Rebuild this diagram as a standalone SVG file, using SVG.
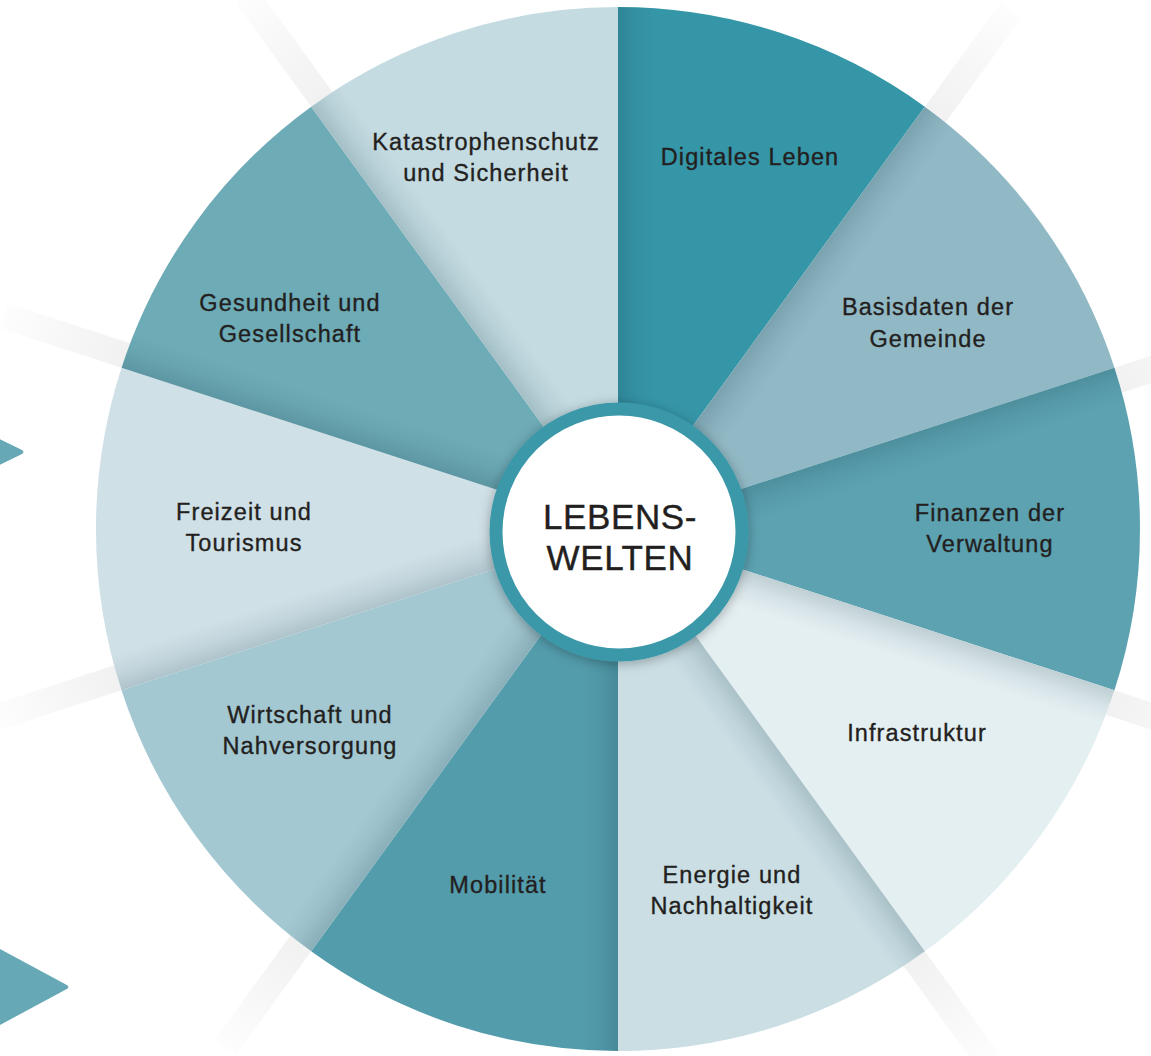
<svg xmlns="http://www.w3.org/2000/svg" width="1151" height="1056" viewBox="0 0 1151 1056">
<style>
.lbl{font-family:"Liberation Sans",Arial,Helvetica,sans-serif;font-size:23.5px;fill:#231f20;stroke:#231f20;stroke-width:0.35px;text-anchor:middle;letter-spacing:1.1px}
.ctr{font-family:"Liberation Sans",Arial,Helvetica,sans-serif;font-size:35px;fill:#231f20;stroke:#231f20;stroke-width:0.4px;text-anchor:middle;letter-spacing:0.6px}
.arrow{fill:#66a8b5}
.ray{fill:url(#ray)}
.shade{fill:url(#shade)}
</style>
<defs>
<clipPath id="wheelClip"><circle cx="618" cy="529" r="522"/></clipPath>
<linearGradient id="shade" gradientUnits="userSpaceOnUse" x1="618" y1="0" x2="654" y2="0">
<stop offset="0" stop-color="#0d3340" stop-opacity="0.17"/>
<stop offset="0.5" stop-color="#0d3340" stop-opacity="0.06"/>
<stop offset="1" stop-color="#0d3340" stop-opacity="0"/>
</linearGradient>
<linearGradient id="ray" gradientUnits="userSpaceOnUse" x1="0" y1="10" x2="0" y2="-120">
<stop offset="0" stop-color="#f1f1f1"/>
<stop offset="1" stop-color="#fdfdfd"/>
</linearGradient>
<filter id="drop" x="-20%" y="-20%" width="140%" height="140%">
<feDropShadow dx="0" dy="2" stdDeviation="6" flood-color="#000" flood-opacity="0.3"/>
</filter>
</defs>
<rect width="1151" height="1056" fill="#ffffff"/>

<g id="arrows">
<path class="arrow" d="M -100 391 L 20 449 Q 27 452 20 455 L -100 513 Z"/>
<path class="arrow" d="M -80 906 L 65 984 Q 72 987 65 990 L -80 1068 Z"/>
</g>

<g id="rays">
<rect class="ray" x="618" y="-121" width="26" height="132" transform="rotate(36 618 529)"/>
<rect class="ray" x="618" y="-121" width="26" height="132" transform="rotate(72 618 529)"/>
<rect class="ray" x="618" y="-121" width="26" height="132" transform="rotate(108 618 529)"/>
<rect class="ray" x="618" y="-121" width="26" height="132" transform="rotate(144 618 529)"/>
<rect class="ray" x="618" y="-121" width="26" height="132" transform="rotate(216 618 529)"/>
<rect class="ray" x="618" y="-121" width="26" height="132" transform="rotate(252 618 529)"/>
<rect class="ray" x="618" y="-121" width="26" height="132" transform="rotate(288 618 529)"/>
<rect class="ray" x="618" y="-121" width="26" height="132" transform="rotate(324 618 529)"/>
</g>

<g id="node-digitales-leben">
<path d="M 618 529 L 618 7 A 522 522 0 0 1 924.82 106.69 Z" fill="#3596a8"/>
<rect class="shade" x="618" y="7" width="40" height="522" transform="rotate(0 618 529)" clip-path="url(#wheelClip)"/>
<text class="lbl" x="750" y="165">Digitales Leben</text>
</g>
<g id="node-basisdaten">
<path d="M 618 529 L 924.82 106.69 A 522 522 0 0 1 1114.45 367.69 Z" fill="#91b9c5"/>
<rect class="shade" x="618" y="7" width="40" height="522" transform="rotate(36 618 529)" clip-path="url(#wheelClip)"/>
<text class="lbl" x="928" y="315">Basisdaten der</text>
<text class="lbl" x="928" y="347">Gemeinde</text>
</g>
<g id="node-finanzen">
<path d="M 618 529 L 1114.45 367.69 A 522 522 0 0 1 1114.45 690.31 Z" fill="#5ca2b1"/>
<rect class="shade" x="618" y="7" width="40" height="522" transform="rotate(72 618 529)" clip-path="url(#wheelClip)"/>
<text class="lbl" x="990" y="521">Finanzen der</text>
<text class="lbl" x="990" y="552">Verwaltung</text>
</g>
<g id="node-infrastruktur">
<path d="M 618 529 L 1114.45 690.31 A 522 522 0 0 1 924.82 951.31 Z" fill="#e4eff2"/>
<rect class="shade" x="618" y="7" width="40" height="522" transform="rotate(108 618 529)" clip-path="url(#wheelClip)"/>
<text class="lbl" x="917" y="741">Infrastruktur</text>
</g>
<g id="node-energie">
<path d="M 618 529 L 924.82 951.31 A 522 522 0 0 1 618 1051 Z" fill="#cadee4"/>
<rect class="shade" x="618" y="7" width="40" height="522" transform="rotate(144 618 529)" clip-path="url(#wheelClip)"/>
<text class="lbl" x="732" y="883">Energie und</text>
<text class="lbl" x="732" y="914">Nachhaltigkeit</text>
</g>
<g id="node-mobilitaet">
<path d="M 618 529 L 618 1051 A 522 522 0 0 1 311.18 951.31 Z" fill="#539cac"/>
<rect class="shade" x="618" y="7" width="40" height="522" transform="rotate(180 618 529)" clip-path="url(#wheelClip)"/>
<text class="lbl" x="498" y="893">Mobilität</text>
</g>
<g id="node-wirtschaft">
<path d="M 618 529 L 311.18 951.31 A 522 522 0 0 1 121.55 690.31 Z" fill="#a3c8d2"/>
<rect class="shade" x="618" y="7" width="40" height="522" transform="rotate(216 618 529)" clip-path="url(#wheelClip)"/>
<text class="lbl" x="310" y="723">Wirtschaft und</text>
<text class="lbl" x="310" y="754">Nahversorgung</text>
</g>
<g id="node-freizeit">
<path d="M 618 529 L 121.55 690.31 A 522 522 0 0 1 121.55 367.69 Z" fill="#cfe0e6"/>
<rect class="shade" x="618" y="7" width="40" height="522" transform="rotate(252 618 529)" clip-path="url(#wheelClip)"/>
<text class="lbl" x="244" y="520">Freizeit und</text>
<text class="lbl" x="244" y="551">Tourismus</text>
</g>
<g id="node-gesundheit">
<path d="M 618 529 L 121.55 367.69 A 522 522 0 0 1 311.18 106.69 Z" fill="#6dabb7"/>
<rect class="shade" x="618" y="7" width="40" height="522" transform="rotate(288 618 529)" clip-path="url(#wheelClip)"/>
<text class="lbl" x="290" y="311">Gesundheit und</text>
<text class="lbl" x="290" y="342">Gesellschaft</text>
</g>
<g id="node-katastrophenschutz">
<path d="M 618 529 L 311.18 106.69 A 522 522 0 0 1 618 7 Z" fill="#c3dbe1"/>
<rect class="shade" x="618" y="7" width="40" height="522" transform="rotate(324 618 529)" clip-path="url(#wheelClip)"/>
<text class="lbl" x="486" y="150">Katastrophenschutz</text>
<text class="lbl" x="486" y="181">und Sicherheit</text>
</g>

<g id="node-center">
<circle cx="619" cy="532" r="123" fill="#ffffff" stroke="#3a98a8" stroke-width="13" filter="url(#drop)"/>
<text class="ctr" x="620" y="529">LEBENS-</text>
<text class="ctr" x="620" y="570">WELTEN</text>
</g>
</svg>
